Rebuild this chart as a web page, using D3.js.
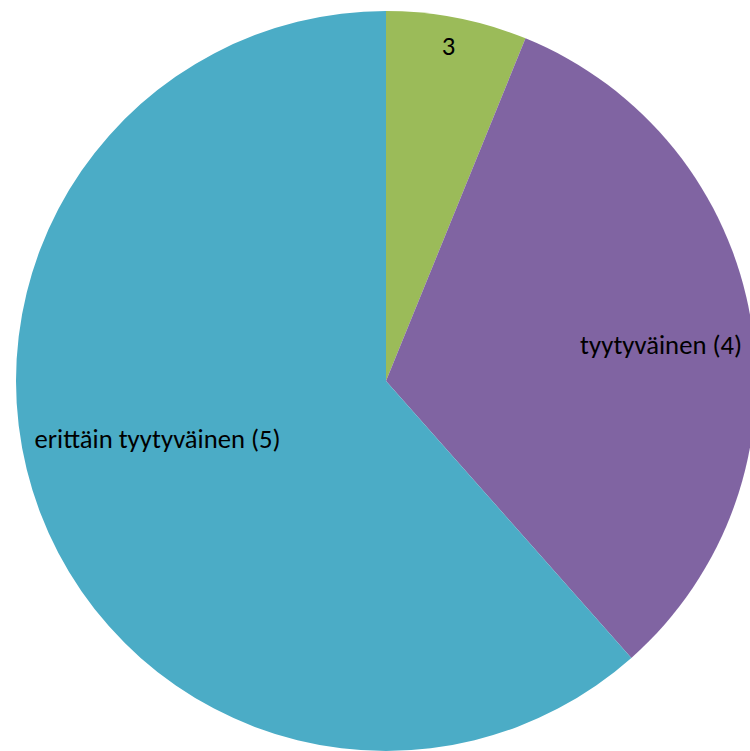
<!DOCTYPE html>
<html>
<head>
<meta charset="utf-8">
<script src="https://cdn.jsdelivr.net/npm/d3@7"></script>
<style>
  html, body { margin: 0; padding: 0; background: #ffffff; }
  svg { display: block; }
</style>
</head>
<body>
<svg id="chart" width="750" height="751"></svg>
<script>
// Data
const categories = ["3", "tyytyväinen (4)", "erittäin tyytyväinen (5)"];
const values = [4, 21, 40];
const colors = ["#9BBB59", "#8064A2", "#4BACC6"];

// Label placement (fraction of radius, angle nudge in degrees)
const labelRadiusFrac = [0.92, 0.75, 0.637];
const labelAngleNudge = [-0.5, 2.15, 6.5];

const svg = d3.select("#chart");
const cx = 386, cy = 381, R = 370;

const pie = d3.pie().sort(null).value(d => d)(values);
const arc = d3.arc().innerRadius(0).outerRadius(R);

const g = svg.append("g").attr("transform", `translate(${cx},${cy})`);

g.selectAll("path.slice")
  .data(pie)
  .join("path")
  .attr("class", "slice")
  .attr("d", arc)
  .attr("fill", (d, i) => colors[i]);

g.selectAll("text.lbl")
  .data(pie)
  .join("text")
  .attr("class", "lbl")
  .attr("transform", (d, i) => {
    const a = (d.startAngle + d.endAngle) / 2 + labelAngleNudge[i] * Math.PI / 180;
    const r = R * labelRadiusFrac[i];
    return `translate(${r * Math.sin(a)},${-r * Math.cos(a)})`;
  })
  .attr("text-anchor", "middle")
  .attr("dominant-baseline", "central")
  .style("font-family", "Carlito, Calibri, 'Open Sans', 'Noto Sans', sans-serif")
  .style("font-size", "26.67px")
  .style("fill", "#000000")
  .text((d, i) => categories[i]);
</script>
</body>
</html>
